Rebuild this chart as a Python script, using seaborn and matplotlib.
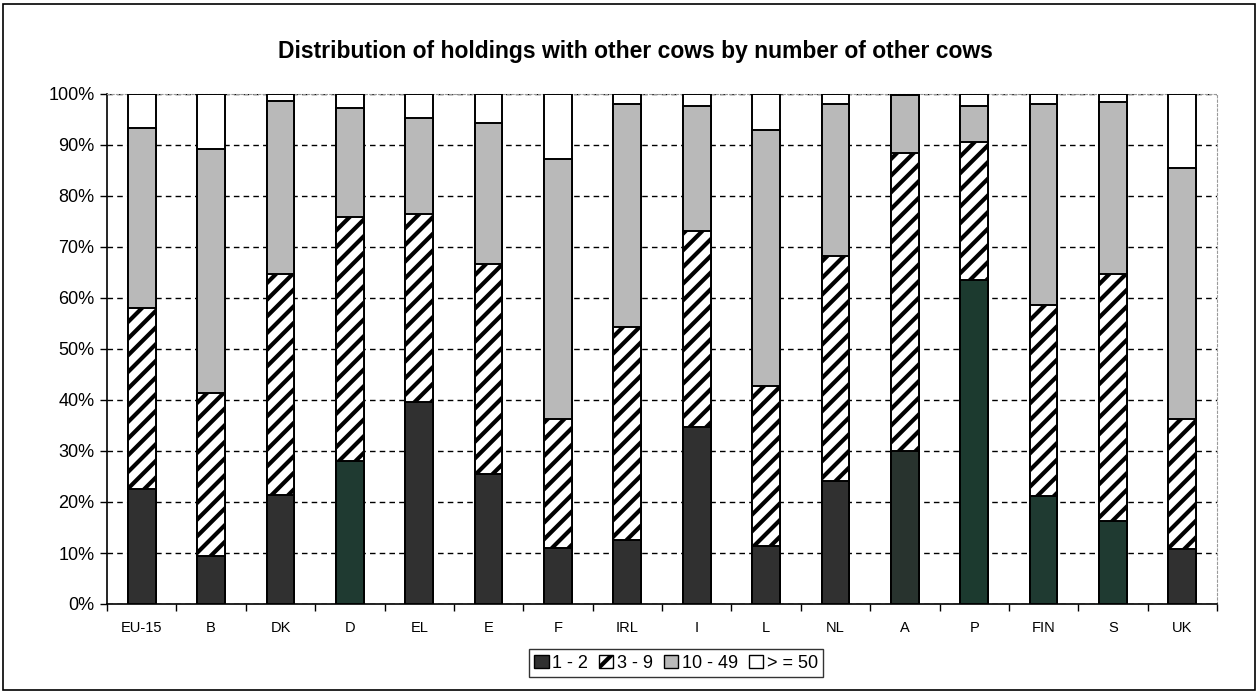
import matplotlib.pyplot as plt
import numpy as np
import seaborn as sns
from matplotlib.patches import Patch, Rectangle
from matplotlib.ticker import FixedLocator, PercentFormatter

countries = ["EU-15", "B", "DK", "D", "EL", "E", "F", "IRL", "I", "L", "NL", "A", "P", "FIN", "S", "UK"]
# shares (%) of holdings by herd size class of other cows
cows_1_2 = [22.5, 9.4, 21.4, 28.1, 39.6, 25.4, 11.0, 12.6, 34.7, 11.3, 24.1, 30.0, 63.5, 21.2, 16.2, 10.8]
cows_3_9 = [35.5, 31.9, 43.3, 47.8, 36.9, 41.3, 25.2, 41.8, 38.5, 31.5, 44.2, 58.5, 27.0, 37.5, 48.5, 25.4]
cows_10_49 = [35.3, 48.0, 34.0, 21.4, 18.8, 27.7, 51.0, 43.6, 24.4, 50.1, 29.7, 11.3, 7.1, 39.3, 33.7, 49.2]
cows_50_plus = [6.7, 10.7, 1.3, 2.7, 4.7, 5.6, 12.8, 2.0, 2.4, 7.1, 2.0, 0.2, 2.4, 2.0, 1.6, 14.6]
legend_labels = ["1 - 2", "3 - 9", "10 - 49", "> = 50"]

# scan tint of the darkest segment, per country
dark_cols = ["#303030", "#303030", "#303030", "#1f3a31", "#303030", "#303030", "#303030", "#303030",
             "#303030", "#303030", "#303030", "#28332e", "#1c3a2f", "#1f3a31", "#1f3a31", "#303030"]

plt.rcParams["font.family"] = ["Liberation Sans", "DejaVu Sans"]
plt.rcParams["hatch.linewidth"] = 3.0

c1 = np.array(cows_1_2)
c2 = c1 + np.array(cows_3_9)
c3 = c2 + np.array(cows_10_49)
c4 = c3 + np.array(cows_50_plus)

fig = plt.figure(figsize=(12.59, 6.93), dpi=100)
ax = fig.add_axes([107 / 1259, 1 - 604 / 693, (1217 - 107) / 1259, (604 - 94) / 693])

w = 0.4
kw = dict(width=w, edgecolor="black", linewidth=1.4, saturation=1, ax=ax, zorder=3)
sns.barplot(x=countries, y=c4, color="white", **kw)
sns.barplot(x=countries, y=c3, color="#b9b9b9", **kw)
sns.barplot(x=countries, y=c2, color="white", hatch="//", **kw)
sns.barplot(x=countries, y=c1, hue=countries, palette=dark_cols, legend=False, **kw)

ax.set_ylim(0, 100)
ax.set_xlim(-0.5, len(countries) - 0.5)
ax.set_yticks(np.arange(0, 101, 10))
ax.yaxis.set_major_formatter(PercentFormatter(decimals=0))
ax.set_xlabel("")
ax.set_ylabel("")
ax.yaxis.grid(True, color="black", linestyle=(0, (4, 3)), linewidth=1.0)
ax.set_axisbelow(True)

ax.tick_params(axis="y", labelsize=13, length=5, width=1, color="black", pad=4)
ax.tick_params(axis="x", which="major", labelsize=10.5, length=0, pad=12)
ax.xaxis.set_minor_locator(FixedLocator(np.arange(-0.5, len(countries), 1)))
ax.tick_params(axis="x", which="minor", length=5, width=1, direction="out")

for s in ["top", "right"]:
    ax.spines[s].set_color("#9a9a9a")
    ax.spines[s].set_linestyle((0, (2, 2)))
    ax.spines[s].set_linewidth(0.8)
ax.spines["left"].set_linewidth(1.2)
ax.spines["bottom"].set_linewidth(1.2)

fig.text(0.505, 0.925, "Distribution of holdings with other cows by number of other cows",
         ha="center", va="center", fontsize=16.5, fontweight="bold")

handles = [
    Patch(facecolor="#303030", edgecolor="black"),
    Patch(facecolor="white", edgecolor="black", hatch="//"),
    Patch(facecolor="#b9b9b9", edgecolor="black"),
    Patch(facecolor="white", edgecolor="black"),
]
leg = fig.legend(handles, legend_labels, loc="center", bbox_to_anchor=(0.537, 0.043), ncol=4,
                 fontsize=13, frameon=True, fancybox=False, edgecolor="black",
                 handlelength=0.8, handleheight=0.8, handletextpad=0.2, columnspacing=0.6,
                 borderpad=0.3, borderaxespad=0)
leg.get_frame().set_linewidth(1.0)

fig.patches.append(Rectangle((3 / 1259, 3 / 693), 1 - 7 / 1259, 1 - 7 / 693, transform=fig.transFigure,
                             fill=False, edgecolor="black", linewidth=1.2))

fig.savefig("out.png", dpi=100)
